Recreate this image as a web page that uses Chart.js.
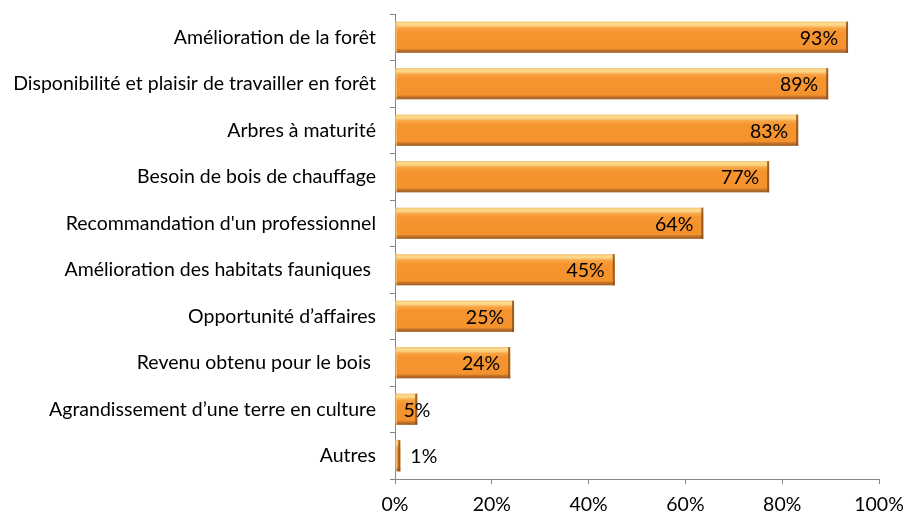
<!DOCTYPE html>
<html><head><meta charset="utf-8">
<script src="https://cdn.jsdelivr.net/npm/chart.js@4"></script>
<style>html,body{margin:0;padding:0;background:#fff}canvas{display:block}</style>
</head><body>
<canvas id="c" width="906" height="516"></canvas>
<script>
const categories = ["Amélioration de la forêt","Disponibilité et plaisir de travailler en forêt","Arbres à maturité","Besoin de bois de chauffage","Recommandation d'un professionnel","Amélioration des habitats fauniques ","Opportunité d’affaires","Revenu obtenu pour le bois ","Agrandissement d’une terre en culture","Autres"];
const values = [93.6, 89.5, 83.3, 77.3, 63.7, 45.4, 24.6, 23.8, 4.6, 1.1];
const valueLabels = ["93%","89%","83%","77%","64%","45%","25%","24%","5%","1%"];
const xTicks = [0,20,40,60,80,100];

const FONT = "Lato, 'Open Sans', sans-serif";
const FS = 19.5;

const bevel = {
  id:'bevel',
  afterDatasetsDraw(chart){
    const ctx = chart.ctx;
    const meta = chart.getDatasetMeta(0);
    ctx.save();
    meta.data.forEach((bar,i)=>{
      const x0 = Math.min(bar.base, bar.x), x1 = Math.max(bar.base, bar.x);
      const y0 = bar.y - bar.height/2, y1 = bar.y + bar.height/2;
      const w = x1-x0, h = y1-y0;
      const g = ctx.createLinearGradient(0,y0,0,y1);
      g.addColorStop(0,'#F2B865');
      g.addColorStop(0.06,'#FDDC8C');
      g.addColorStop(0.12,'#FCD384');
      g.addColorStop(0.2,'#F8A445');
      g.addColorStop(0.32,'#F6952F');
      g.addColorStop(0.86,'#F4922D');
      g.addColorStop(0.91,'#C9752A');
      g.addColorStop(1,'#9A5A22');
      ctx.fillStyle = g;
      ctx.fillRect(x0,y0,w,h);
      ctx.fillStyle = 'rgba(140,80,25,0.85)';
      ctx.fillRect(x1-2,y0,2,h);
      ctx.fillStyle = 'rgba(250,200,120,0.7)';
      ctx.fillRect(x0,y0,1.5,h);
      ctx.font = FS + "px " + FONT;
      ctx.fillStyle = '#000';
      ctx.textBaseline = 'middle';
      const tw = ctx.measureText(valueLabels[i]).width;
      if (w > tw + 16) { ctx.textAlign='right'; ctx.fillText(valueLabels[i], x1-10, bar.y+1); }
      else if (w > 10) { ctx.textAlign='left'; ctx.fillText(valueLabels[i], x0+8, bar.y+1); }
      else { ctx.textAlign='left'; ctx.fillText(valueLabels[i], x1+10, bar.y+1); }
    });
    ctx.restore();
  }
};

new Chart(document.getElementById('c'), {
  type:'bar',
  data:{labels:categories, datasets:[{data:values, backgroundColor:'rgba(0,0,0,0)', borderWidth:0, barPercentage:0.67, categoryPercentage:1}]},
  options:{
    indexAxis:'y', responsive:false, animation:false,
    layout:{padding:{left:0,right:27,top:14,bottom:0}},
    plugins:{legend:{display:false}, tooltip:{enabled:false}},
    scales:{
      x:{min:0,max:100,
        afterBuildTicks(s){ s.ticks = xTicks.map(v=>({value:v})); },
        afterFit(s){ s.height = 37; s.paddingLeft = 0; s.paddingRight = 0; },
        ticks:{callback:v=>v+'%', color:'#000', font:{family:FONT,size:FS}, padding:9, maxRotation:0},
        grid:{display:true, drawOnChartArea:false, tickLength:5, color:'#868686', tickColor:'#868686'},
        border:{display:true,color:'#868686',width:1}},
      y:{
        afterFit(s){ s.width = 395; s.paddingTop = 0; s.paddingBottom = 0; },
        ticks:{color:'#000', font:{family:FONT,size:FS}, padding:14, autoSkip:false},
        grid:{display:true, drawOnChartArea:false, tickLength:5, color:'#868686', tickColor:'#868686', offset:true},
        border:{display:true,color:'#868686',width:1}}
    }
  },
  plugins:[bevel]
});
</script>
</body></html>
